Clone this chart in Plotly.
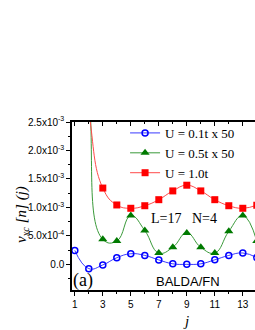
import plotly.graph_objects as go

# data (values in units of 1e-3)
j = list(range(1, 15))
blue_u01x50 = [0.245, -0.075, -0.01, 0.117, 0.187, 0.157, 0.078, 0.01, 0.0, 0.01, 0.08, 0.157, 0.2, 0.12]
green_u05x50 = [6.0, 3.1, 0.44, 0.41, 0.857, 0.594, 0.2, 0.3, 0.553, 0.3, 0.2, 0.58, 0.857, 0.41]
red_u10 = [5.0, 2.7, 1.34, 1.043, 0.985, 1.03, 1.136, 1.29, 1.39, 1.29, 1.136, 1.03, 0.985, 1.04]

series_names = ["U = 0.1t x 50", "U = 0.5t x 50", "U = 1.0t"]
ytick_vals = [0.0, 0.5, 1.0, 1.5, 2.0, 2.5]
ytick_text = ["0.0", "5.0x10<sup>-4</sup>", "1.0x10<sup>-3</sup>", "1.5x10<sup>-3</sup>",
              "2.0x10<sup>-3</sup>", "2.5x10<sup>-3</sup>"]
xtick_vals = [1, 3, 5, 7, 9, 11, 13]

scale = 1e-3
serif = "Liberation Serif"
sans = "Liberation Sans"

fig = go.Figure()
styles = [
    dict(line=dict(color="#3a3aff", width=1, shape="spline", smoothing=1.3),
         marker=dict(symbol="circle-open", size=6, color="#0000ff", line=dict(width=1.5, color="#0000ff"))),
    dict(line=dict(color="#3a9a3a", width=1, shape="spline", smoothing=1.3),
         marker=dict(symbol="triangle-up", size=8, color="#007a00")),
    dict(line=dict(color="#ff4a4a", width=1, shape="spline", smoothing=1.3),
         marker=dict(symbol="square", size=7, color="#ff0000")),
]
for name, vals, st in zip(series_names, [blue_u01x50, green_u05x50, red_u10], styles):
    fig.add_trace(go.Scatter(x=j, y=[v * scale for v in vals], name=name, mode="lines+markers",
                             line=st["line"], marker=st["marker"]))

xr = [0.8, 0.8 + (255 - 72) / 14.0]
fig.update_layout(
    width=255, height=330,
    margin=dict(l=72, r=0, t=122, b=40),
    paper_bgcolor="white", plot_bgcolor="white",
    showlegend=True,
    legend=dict(x=0.29, y=1.024, xanchor="left", yanchor="top", bgcolor="rgba(0,0,0,0)",
                font=dict(family=serif, size=13, color="black"), tracegroupgap=0,
                itemwidth=30),
    xaxis=dict(range=xr, tickvals=xtick_vals, ticks="outside", ticklen=4, tickwidth=1,
               tickcolor="black", showline=True, linecolor="black", linewidth=1.5,
               showgrid=False, zeroline=False,
               tickfont=dict(family=sans, size=10, color="black"),
               minor=dict(tickvals=list(range(1, 15)), ticks="outside", ticklen=2, tickcolor="black")),
    xaxis2=dict(range=xr, overlaying="x", side="top", tickvals=xtick_vals, ticks="inside",
                ticklen=4, tickcolor="black", showline=True, linecolor="black", linewidth=1.5,
                showticklabels=False, showgrid=False, zeroline=False,
                minor=dict(tickvals=list(range(1, 15)), ticks="inside", ticklen=2, tickcolor="black")),
    yaxis=dict(range=[-0.45e-3, 2.5e-3], tickvals=[v * scale for v in ytick_vals], ticktext=ytick_text,
               ticks="outside", ticklen=4, tickcolor="black", showline=True, linecolor="black",
               linewidth=1.5, showgrid=False, zeroline=False,
               tickfont=dict(family=sans, size=10, color="black"),
               minor=dict(tickvals=[v * 0.25e-3 for v in range(-1, 10)], ticks="outside",
                          ticklen=2, tickcolor="black")),
)
# dummy invisible trace to activate top axis
fig.add_trace(go.Scatter(x=[None], y=[None], xaxis="x2", showlegend=False, hoverinfo="skip"))

def px_x(p):
    return (p - 72) / 183.0

def px_y(p):
    return (290 - p) / 168.0

ann_common = dict(xref="paper", yref="paper", showarrow=False, xanchor="center", yanchor="middle")
fig.add_annotation(text="ν<sub>xc</sub> [n] (j)", textangle=-90, x=px_x(22), y=px_y(214),
                   font=dict(family=serif, size=15, color="black", style="italic"), **ann_common)
fig.add_annotation(text="j", x=px_x(186), y=px_y(321),
                   font=dict(family=serif, size=15, color="black", style="italic"), **ann_common)
fig.add_annotation(text="(a)", x=px_x(83), y=px_y(280),
                   font=dict(family=serif, size=18, color="black"), **ann_common)
fig.add_annotation(text="BALDA/FN", x=px_x(188), y=px_y(281),
                   font=dict(family=sans, size=13, color="black"), **ann_common)
fig.add_annotation(text="L=17   N=4", x=px_x(184), y=px_y(218),
                   font=dict(family=serif, size=14, color="black"), **ann_common)

fig.write_html("out.html", config={"displayModeBar": False},
               post_script="document.body.style.margin='0px';")
